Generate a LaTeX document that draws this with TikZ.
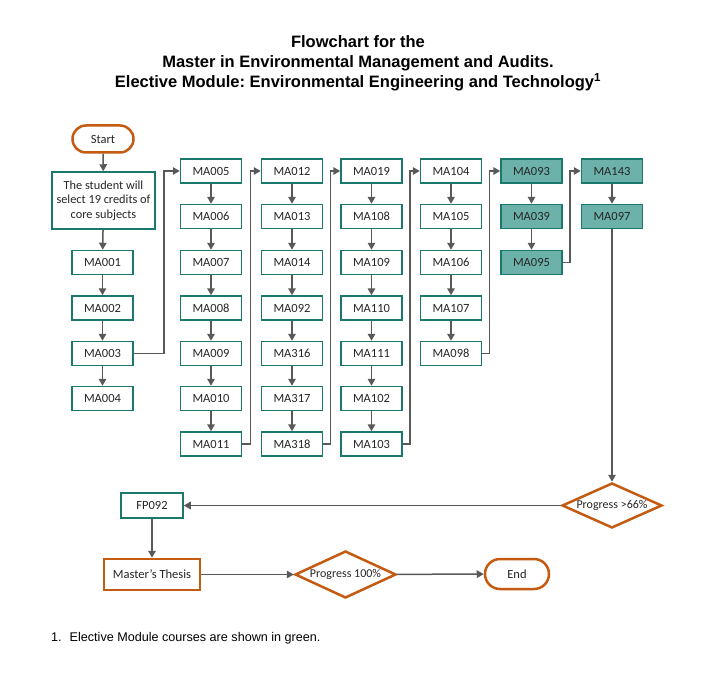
\documentclass[tikz,border=0pt]{standalone}
\usepackage{fontspec}
\setmainfont{Liberation Sans}
\newfontfamily\carlito{Carlito}
\usetikzlibrary{shapes.geometric,shapes.misc,arrows.meta}
\definecolor{tealc}{RGB}{26,120,108}
\definecolor{greenf}{RGB}{108,178,170}
\definecolor{orangec}{RGB}{197,90,17}
\definecolor{grayc}{RGB}{89,89,89}
\frenchspacing
\tikzset{
  box/.style={draw=tealc, line width=1.5pt, minimum width=61pt, minimum height=24pt, inner sep=0pt, font=\carlito\fontsize{12.5}{14}\selectfont, text=black!85},
  gbox/.style={box, fill=greenf},
  term/.style={rounded rectangle, draw=orangec, line width=2.5pt, minimum height=27pt, inner sep=0pt, font=\carlito\fontsize{12.5}{14}\selectfont, text=black!85},
  dia/.style={diamond, aspect=2.2, draw=orangec, line width=2.5pt, minimum width=100pt, minimum height=45pt, inner sep=0pt, font=\carlito\fontsize{12}{14}\selectfont, text=black!85},
  arr/.style={draw=grayc, line width=1.5pt, -{Triangle[length=7pt,width=7.5pt]}}
}
\begin{document}
\begin{tikzpicture}[x=1pt,y=-1pt]
\fill[white] (0,0) rectangle (716,677);
\node[font=\bfseries\fontsize{16.5}{20}\selectfont, align=center] (title) at (358,63.5) {Flowchart for the\\Master in Environmental Management and Audits.\\Elective Module: Environmental Engineering and Technology\textsuperscript{1}};
% column 1
\node[term, minimum width=61pt] (start) at (103,139) {Start};
\node[box, minimum width=103pt, minimum height=57pt, align=center, font=\carlito\fontsize{12.3}{14.5}\selectfont] (stud) at (103.5,200.5) {The student will\\select 19 credits of\\core subjects};
\node[box] (m001) at (102.5,262.5) {MA001};
\node[box] (m002) at (102.5,308) {MA002};
\node[box] (m003) at (102.5,353.5) {MA003};
\node[box] (m004) at (102.5,398.5) {MA004};
% column 2
\node[box] (m005) at (211,171) {MA005};
\node[box] (m006) at (211,216.5) {MA006};
\node[box] (m007) at (211,262.5) {MA007};
\node[box] (m008) at (211,308) {MA008};
\node[box] (m009) at (211,353.5) {MA009};
\node[box] (m010) at (211,398.5) {MA010};
\node[box] (m011) at (211,444) {MA011};
% column 3
\node[box] (m012) at (292,171) {MA012};
\node[box] (m013) at (292,216.5) {MA013};
\node[box] (m014) at (292,262.5) {MA014};
\node[box] (m092) at (292,308) {MA092};
\node[box] (m316) at (292,353.5) {MA316};
\node[box] (m317) at (292,398.5) {MA317};
\node[box] (m318) at (292,444) {MA318};
% column 4
\node[box] (m019) at (371.5,171) {MA019};
\node[box] (m108) at (371.5,216.5) {MA108};
\node[box] (m109) at (371.5,262.5) {MA109};
\node[box] (m110) at (371.5,308) {MA110};
\node[box] (m111) at (371.5,353.5) {MA111};
\node[box] (m102) at (371.5,398.5) {MA102};
\node[box] (m103) at (371.5,444) {MA103};
% column 5
\node[box] (m104) at (451,171) {MA104};
\node[box] (m105) at (451,216.5) {MA105};
\node[box] (m106) at (451,262.5) {MA106};
\node[box] (m107) at (451,308) {MA107};
\node[box] (m098) at (451,353.5) {MA098};
% column 6
\node[gbox] (m093) at (531.5,171) {MA093};
\node[gbox] (m039) at (531.5,216.5) {MA039};
\node[gbox] (m095) at (531.5,262.5) {MA095};
% column 7
\node[gbox] (m143) at (612,171) {MA143};
\node[gbox] (m097) at (612,216.5) {MA097};
% bottom
\node[dia] (p66) at (612,505.5) {Progress >66\%};
\node[box, minimum width=62pt, minimum height=25pt] (fp) at (152,505.5) {FP092};
\node[box, draw=orangec, line width=2.5pt, minimum width=96pt, minimum height=31pt] (thesis) at (152,574.5) {Master’s Thesis};
\node[dia, minimum width=101pt, minimum height=47pt] (p100) at (345.5,574.5) {Progress 100\%};
\node[term, minimum width=64pt, minimum height=30pt] (end) at (517,574) {End};
% footnote
\node[anchor=west, font=\fontsize{12.6}{14}\selectfont, inner sep=0pt] (fn) at (51,638) {1.\hspace{8pt}Elective Module courses are shown in green.};
% connectors
\draw[arr] (start) -- (stud);
\draw[arr] (stud) -- (m001);
\draw[arr] (m001) -- (m002);
\draw[arr] (m002) -- (m003);
\draw[arr] (m003) -- (m004);
\draw[arr] (m003.east) -- ++(30,0) |- (m005.west);
\draw[arr] (m005) -- (m006);
\draw[arr] (m006) -- (m007);
\draw[arr] (m007) -- (m008);
\draw[arr] (m008) -- (m009);
\draw[arr] (m009) -- (m010);
\draw[arr] (m010) -- (m011);
\draw[arr] (m011.east) -- ++(8,0) |- (m012.west);
\draw[arr] (m012) -- (m013);
\draw[arr] (m013) -- (m014);
\draw[arr] (m014) -- (m092);
\draw[arr] (m092) -- (m316);
\draw[arr] (m316) -- (m317);
\draw[arr] (m317) -- (m318);
\draw[arr] (m318.east) -- ++(7,0) |- (m019.west);
\draw[arr] (m019) -- (m108);
\draw[arr] (m108) -- (m109);
\draw[arr] (m109) -- (m110);
\draw[arr] (m110) -- (m111);
\draw[arr] (m111) -- (m102);
\draw[arr] (m102) -- (m103);
\draw[arr] (m103.east) -- ++(7,0) |- (m104.west);
\draw[arr] (m104) -- (m105);
\draw[arr] (m105) -- (m106);
\draw[arr] (m106) -- (m107);
\draw[arr] (m107) -- (m098);
\draw[arr] (m098.east) -- ++(7,0) |- (m093.west);
\draw[arr] (m093) -- (m039);
\draw[arr] (m039) -- (m095);
\draw[arr] (m095.east) -- ++(7,0) |- (m143.west);
\draw[arr] (m143) -- (m097);
\draw[arr] (m097) -- (p66);
\draw[arr] (p66) -- (fp);
\draw[arr] (fp) -- (thesis);
\draw[arr] (thesis) -- (p100);
\draw[arr] (p100) -- (end);
\end{tikzpicture}
\end{document}
